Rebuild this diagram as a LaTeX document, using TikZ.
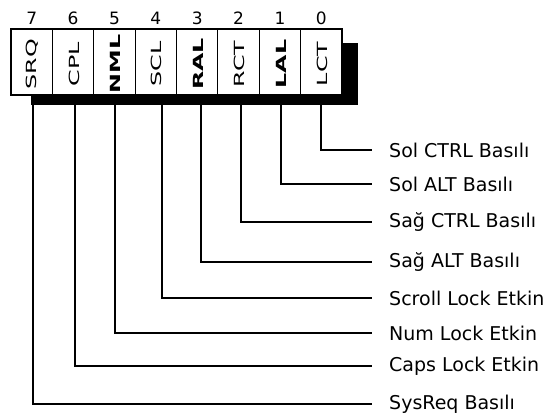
\documentclass[tikz,border=0pt]{standalone}
\usepackage{fontspec}
\usepackage{graphicx}
\setmainfont{DejaVu Sans}
\begin{document}
\begin{tikzpicture}[x=1pt,y=-1pt,
  cell/.style={draw,line width=1.2pt,fill=white,minimum width=41.375pt,minimum height=66pt,inner sep=0pt,anchor=center},
  celltext/.style={rotate=90,inner sep=0pt,font=\fontsize{14}{14}\selectfont},
  digit/.style={font=\fontsize{17}{17}\selectfont,inner sep=0pt},
  lbl/.style={anchor=west,inner xsep=17pt,inner ysep=0pt,font=\fontsize{19}{19}\selectfont},
  conn/.style={line width=1.2pt}]
\useasboundingbox (0,0) rectangle (551,419);
% shadow
\fill[black] (31,43) rectangle (358,105);
% cells
\foreach \b/\t/\w [count=\i from 0] in {7/SRQ/n,6/CPL/n,5/NML/b,4/SCL/n,3/RAL/b,2/RCT/n,1/LAL/b,0/LCT/n}{
  \pgfmathsetmacro{\cx}{11+41.375*(\i+0.5)}
  \node[cell] (c\b) at (\cx,62) {};
  \node[celltext] (n\b) at (\cx+1,64) {\if b\w\bfseries\fi\scalebox{1.7}[1]{\t}};
  \node[digit] (d\b) at (\cx,18) {\b};
}
% connector start points
\coordinate (t7) at (33,105);
\coordinate (t6) at (75,105);
\coordinate (t5) at (115,105);
\coordinate (t4) at (162,105);
\coordinate (t3) at (201,105);
\coordinate (t2) at (241,105);
\coordinate (t1) at (281,105);
\coordinate (t0) at (321,105);
% labels
\node[lbl] (l0) at (372,150) {Sol CTRL Basılı};
\node[lbl] (l1) at (372,184) {Sol ALT Basılı};
\node[lbl] (l2) at (372,222) {Sağ CTRL Basılı};
\node[lbl] (l3) at (372,262) {Sağ ALT Basılı};
\node[lbl] (l4) at (372,298) {Scroll Lock Etkin};
\node[lbl] (l5) at (372,333) {Num Lock Etkin};
\node[lbl] (l6) at (372,366) {Caps Lock Etkin};
\node[lbl] (l7) at (372,404) {SysReq Basılı};
\foreach \b in {0,...,7}{
  \draw[conn] (t\b) |- (l\b.west);
}
\end{tikzpicture}
\end{document}
